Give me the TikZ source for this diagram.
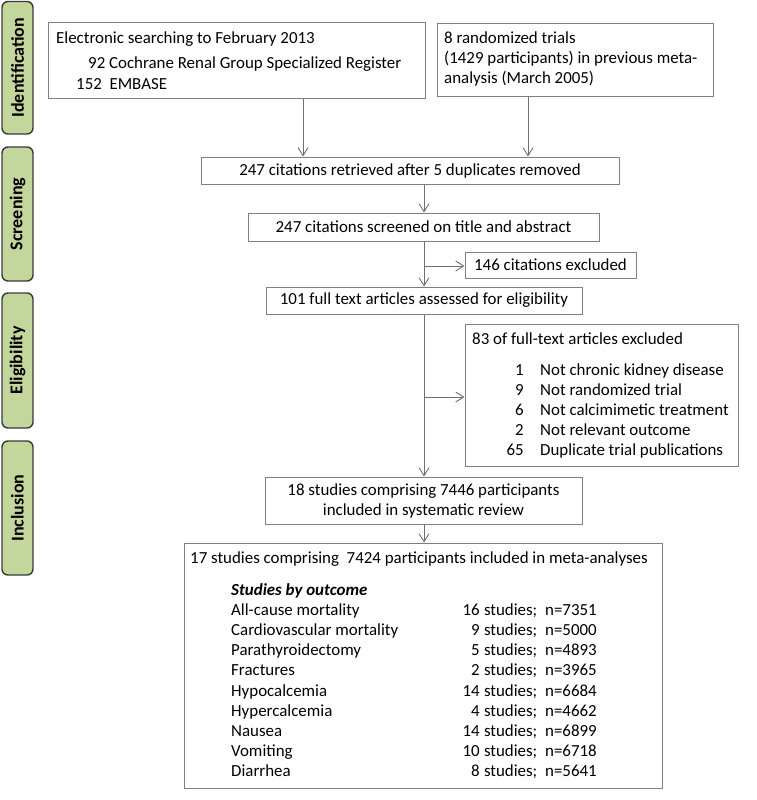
\documentclass[tikz,border=0pt]{standalone}
\usepackage{fontspec}
\setmainfont{Carlito}
\usetikzlibrary{arrows.meta}
\definecolor{phasegreen}{HTML}{C3D69B}
\definecolor{phaseline}{HTML}{3A3A3A}
\definecolor{boxline}{HTML}{808080}
\definecolor{arrline}{HTML}{6E6E6E}
\newcommand\boxfont{\fontsize{16.9}{20}\selectfont}
\begin{document}
\begin{tikzpicture}[x=1pt,y=-1pt,
  box/.style={draw=boxline, line width=1pt, inner sep=0pt, font=\boxfont, text=black},
  txt/.style={inner sep=0pt, font=\boxfont, anchor=base west},
  phase/.style={draw=phaseline, fill=phasegreen, line width=1.4pt, rounded corners=6pt,
    inner sep=0pt, font=\bfseries\fontsize{18}{20}\selectfont, rotate=90, minimum height=31pt},
  arr/.style={draw=arrline, line width=0.9pt, -{Straight Barb[length=8pt,width=10pt]}}
]
\useasboundingbox (0,0) rectangle (756,800);

% phase bars
\node[phase, minimum width=132.5pt] (pid) at (17.5,67.75) {Identification};
\node[phase, minimum width=134pt] (psc) at (17.5,214) {Screening};
\node[phase, minimum width=135pt] (pel) at (17.5,360.5) {Eligibility};
\node[phase, minimum width=134pt] (pin) at (17.5,508) {Inclusion};

% identification boxes
\node[box, minimum width=377pt, minimum height=75pt] (A) at (236.5,60.5) {};
\node[txt] (A1) at (56,43.5) {Electronic searching to February 2013};
\node[txt] (A2) at (88,69) {92 Cochrane Renal Group Specialized Register};
\node[txt] (A3) at (76,89.5) {152\ \ EMBASE};

\node[box, minimum width=276pt, minimum height=72.5pt] (B) at (575,60) {};
\node[txt] (B1) at (444,43.5) {8 randomized trials};
\node[txt] (B2) at (444,63.5) {(1429 participants) in previous meta-};
\node[txt] (B3) at (444,84) {analysis (March 2005)};

% screening
\node[box, minimum width=418pt, minimum height=27pt] (C) at (410,170.5) {247 citations retrieved after 5 duplicates removed};
\node[box, minimum width=351pt, minimum height=28pt] (D) at (423.5,227) {247 citations screened on title and abstract};
\node[box, minimum width=171pt, minimum height=26pt] (F) at (550.5,265) {146 citations excluded};

% eligibility
\node[box, minimum width=316pt, minimum height=27pt] (E) at (424,300.5) {101 full text articles assessed for eligibility};
\node[box, minimum width=273pt, minimum height=142pt] (H) at (601.5,395) {};
\node[txt] (H0) at (472,344.5) {83 of full-text articles excluded};
\foreach \n/\t [count=\k] in {1/Not chronic kidney disease, 9/Not randomized trial,
  6/Not calcimimetic treatment, 2/Not relevant outcome, 65/Duplicate trial publications} {
  \node[txt, anchor=base east] (Hn\k) at (524,355.7+20*\k) {\n};
  \node[txt] (Ht\k) at (540,355.7+20*\k) {\t};
}

% inclusion
\node[box, minimum width=317pt, minimum height=47pt, align=center] (G) at (423.5,500.5)
  {18 studies comprising 7446 participants\\included in systematic review};
\node[box, minimum width=478pt, minimum height=245pt] (I) at (423,665.5) {};
\node[txt] (I0) at (190,563.5) {17 studies comprising\ \ 7424 participants included in meta-analyses};
\node[txt, font=\boxfont\bfseries\itshape] (I1) at (231,595) {Studies by outcome};
\foreach \o/\s/\n [count=\k] in {All-cause mortality/16/7351, Cardiovascular mortality/9/5000,
  Parathyroidectomy/5/4893, Fractures/2/3965, Hypocalcemia/14/6684, Hypercalcemia/4/4662,
  Nausea/14/6899, Vomiting/10/6718, Diarrhea/8/5641} {
  \node[txt] (Io\k) at (231,595+20.2*\k) {\o};
  \node[txt, anchor=base east] (Is\k) at (480,595+20.2*\k) {\s};
  \node[txt] (Iw\k) at (483.8,595+20.2*\k) {studies;};
  \node[txt] (In\k) at (545,595+20.2*\k) {n=\n};
}

% connectors
\draw[arr] (303,0 |- A.south) -- (303,0 |- C.north);
\draw[arr] (528,0 |- B.south) -- (528,0 |- C.north);
\draw[arr] (424,0 |- C.south) -- (424,0 |- D.north);
\draw[arr] (424,0 |- D.south) -- (424,0 |- E.north);
\coordinate (j1) at (424,266);
\draw[arr] (j1) -- (j1 -| F.west);
\draw[arr] (424,0 |- E.south) -- (424,0 |- G.north);
\coordinate (j2) at (424,397);
\draw[arr] (j2) -- (j2 -| H.west);
\draw[arr] (424,0 |- G.south) -- (424,0 |- I.north);
\end{tikzpicture}
\end{document}
